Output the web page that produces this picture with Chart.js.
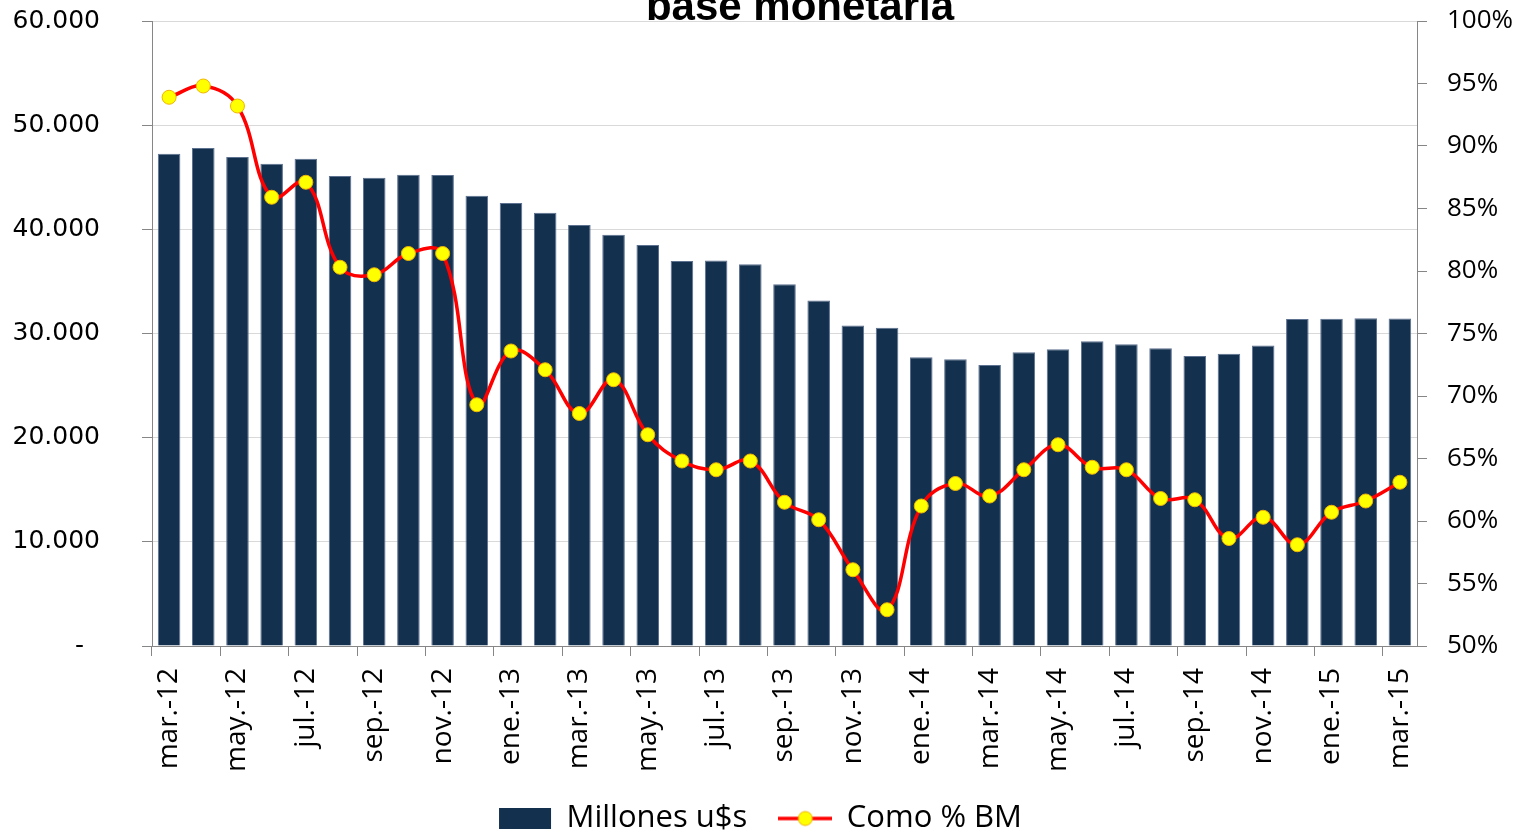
<!DOCTYPE html>
<html lang="es">
<head>
	<meta charset="UTF-8">
	<title>base monetaria</title>
	<style>
	* { margin: 0; padding: 0; box-sizing: border-box; }
	body { background: #fff; }
	.chartbox { width: 1521px; height: 834px; }
	</style>
</head>
<body>
	<div class="chartbox">
		<canvas id="myChart" width="1521" height="834"></canvas>
	</div>

<script src="https://cdn.jsdelivr.net/npm/chart.js"></script>

<script>
// meses (mar-12 .. mar-15)
const months = ['mar.-12','abr.-12','may.-12','jun.-12','jul.-12','ago.-12','sep.-12','oct.-12','nov.-12','dic.-12',
	'ene.-13','feb.-13','mar.-13','abr.-13','may.-13','jun.-13','jul.-13','ago.-13','sep.-13','oct.-13','nov.-13','dic.-13',
	'ene.-14','feb.-14','mar.-14','abr.-14','may.-14','jun.-14','jul.-14','ago.-14','sep.-14','oct.-14','nov.-14','dic.-14',
	'ene.-15','feb.-15','mar.-15'];

// Millones u$s (barras, eje izq.)
const millones = [47260, 47810, 46940, 46300, 46780, 45120, 44960, 45250, 45220, 43230,
	42530, 41600, 40420, 39490, 38500, 36960, 37020, 36640, 34720, 33180, 30780, 30560,
	27710, 27520, 26980, 28190, 28480, 29250, 28960, 28580, 27840, 28060, 28860, 31390,
	31420, 31460, 31450];

// Como % BM (linea, eje der.)
const pctBM = [93.9, 94.8, 93.2, 85.9, 87.1, 80.3, 79.7, 81.4, 81.4, 69.3,
	73.6, 72.1, 68.6, 71.3, 66.9, 64.8, 64.1, 64.8, 61.5, 60.1, 56.1, 52.9,
	61.2, 63.0, 62.0, 64.1, 66.1, 64.3, 64.1, 61.8, 61.7, 58.6, 60.3, 58.1,
	60.7, 61.6, 63.1];

const leftTicks = [0, 10000, 20000, 30000, 40000, 50000, 60000];
const rightTicks = [50, 55, 60, 65, 70, 75, 80, 85, 90, 95, 100];

const barColor = '#14304f';
const axisGray = '#868686';

// legend symbol for the line series: red line + yellow dot
const lineSymbol = document.createElement('canvas');
lineSymbol.width = 54;
lineSymbol.height = 20;
(function(){
	const c = lineSymbol.getContext('2d');
	c.strokeStyle = '#ff0000';
	c.lineWidth = 3.5;
	c.beginPath(); c.moveTo(0, 10); c.lineTo(54, 10); c.stroke();
	c.fillStyle = '#ffff00';
	c.strokeStyle = '#f0b400';
	c.lineWidth = 1;
	c.beginPath(); c.arc(27, 10, 7, 0, Math.PI * 2); c.fill(); c.stroke();
})();

// title is cut off at the top in the original
const titlePlugin = {
	id: 'cutTitle',
	afterDraw(chart) {
		const ctx = chart.ctx;
		ctx.save();
		ctx.font = 'bold 42px "Liberation Sans", Arial, sans-serif';
		ctx.fillStyle = '#000';
		ctx.textAlign = 'center';
		ctx.textBaseline = 'alphabetic';
		ctx.fillText('base monetaria', 800, 20);
		ctx.restore();
	}
};

// no extra room for half tick labels, the layout is fixed
function noPad(s) {
	s.paddingTop = 0;
	s.paddingBottom = 0;
	s.paddingLeft = 0;
	s.paddingRight = 0;
}

const data = {
	labels: months,
	datasets: [{
		type: 'bar',
		label: 'Millones u$s',
		data: millones,
		yAxisID: 'y',
		backgroundColor: barColor,
		borderColor: '#5c7090',
		borderWidth: 1,
		categoryPercentage: 1,
		barPercentage: 0.66,
		order: 1
	}, {
		type: 'line',
		label: 'Como % BM',
		data: pctBM,
		yAxisID: 'y1',
		borderColor: '#ff0000',
		borderWidth: 3.5,
		tension: 0.4,
		pointRadius: 7,
		pointBackgroundColor: '#ffff00',
		pointBorderColor: '#f0b400',
		pointBorderWidth: 1,
		order: 0
	}]
};

const config = {
	type: 'bar',
	data,
	options: {
		responsive: false,
		animation: false,
		layout: { padding: { top: 21, left: 0, right: 0, bottom: -10 } },
		scales: {
			x: {
				offset: true,
				grid: {
					offset: true,
					drawOnChartArea: false,
					tickLength: 10,
					color: ctx => (ctx.index % 2 === 0 ? axisGray : 'rgba(0,0,0,0)')
				},
				border: { color: axisGray },
				ticks: {
					autoSkip: false,
					minRotation: 90,
					maxRotation: 90,
					padding: 12,
					color: '#000',
					font: { family: 'Open Sans', size: 28 },
					callback: (v, i) => (i % 2 === 0 ? months[i] : '')
				},
				afterFit: s => { s.height = 125; noPad(s); }
			},
			y: {
				position: 'left',
				min: leftTicks[0],
				max: leftTicks[leftTicks.length - 1],
				afterBuildTicks: s => { s.ticks = leftTicks.map(v => ({ value: v })); },
				grid: { color: '#d9d9d9', tickColor: axisGray, tickLength: 10 },
				border: { color: axisGray },
				ticks: {
					padding: 42,
					color: '#000',
					font: { family: 'DejaVu Sans', size: 25 },
					callback: v => (v === 0 ? '-  ' : v.toLocaleString('de-DE'))
				},
				afterFit: s => { s.width = 152; noPad(s); }
			},
			y1: {
				position: 'right',
				min: rightTicks[0],
				max: rightTicks[rightTicks.length - 1],
				afterBuildTicks: s => { s.ticks = rightTicks.map(v => ({ value: v })); },
				grid: { drawOnChartArea: false, color: axisGray, tickLength: 10 },
				border: { color: axisGray },
				ticks: {
					padding: 20,
					color: '#000',
					font: { family: 'Open Sans', size: 26 },
					callback: v => v + '%'
				},
				afterFit: s => { s.width = 104; noPad(s); }
			}
		},
		plugins: {
			tooltip: { enabled: false },
			legend: {
				position: 'bottom',
				labels: {
					usePointStyle: true,
					pointStyleWidth: 52,
					boxHeight: 21,
					padding: 32,
					color: '#000',
					font: { family: 'Open Sans', size: 31 },
					generateLabels: chart => {
						const items = Chart.defaults.plugins.legend.labels.generateLabels(chart);
						items.forEach(it => {
							if (it.datasetIndex === 0) {
								it.pointStyle = 'rect';
								it.fillStyle = barColor;
								it.lineWidth = 0;
								it.strokeStyle = barColor;
							} else {
								it.pointStyle = lineSymbol;
							}
						});
						return items.sort((a, b) => a.datasetIndex - b.datasetIndex);
					}
				}
			}
		}
	},
	plugins: [titlePlugin]
};

const myChart = new Chart(document.getElementById('myChart'), config);
</script>
</body>
</html>
